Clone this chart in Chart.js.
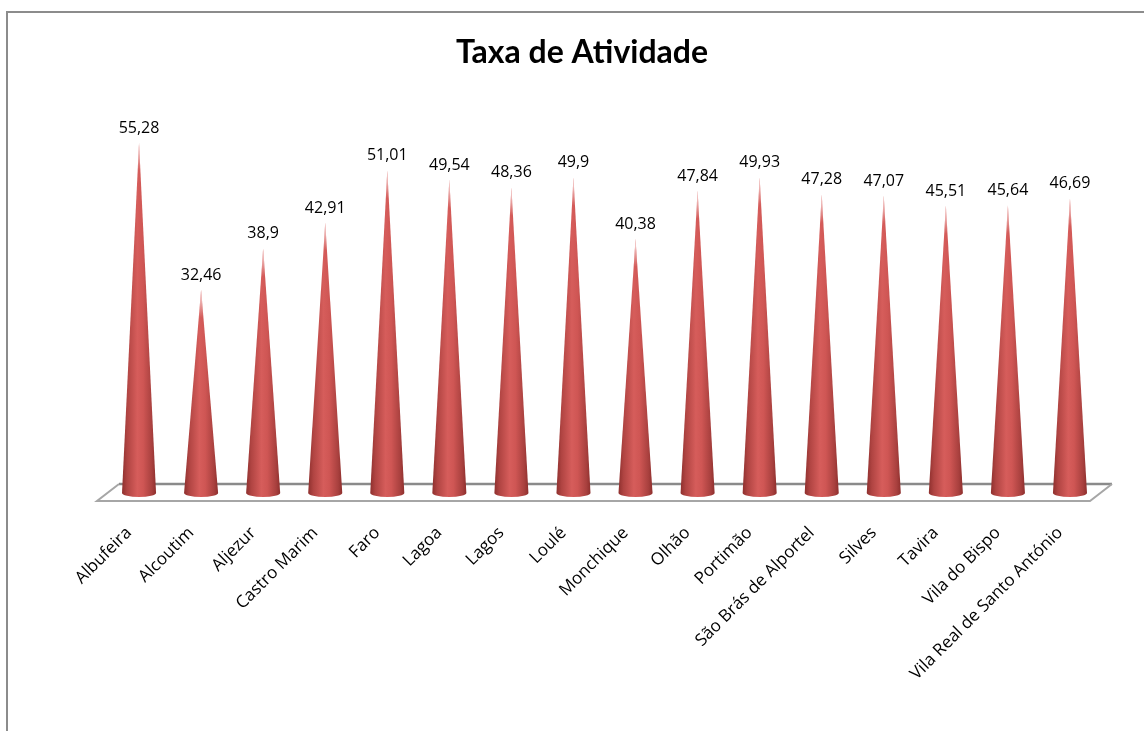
<!DOCTYPE html>
<html>
<head>
<meta charset="utf-8">
<title>Taxa de Atividade</title>
<script src="https://cdn.jsdelivr.net/npm/chart.js@4.4.1/dist/chart.umd.min.js"></script>
<style>
  html, body { margin: 0; padding: 0; background: #fff; overflow: hidden; }
  #wrap { width: 1164px; height: 731px; }
</style>
</head>
<body>
<div id="wrap"><canvas id="chart" width="1164" height="731"></canvas></div>
<script>
const municipios = [
  "Albufeira", "Alcoutim", "Aljezur", "Castro Marim", "Faro", "Lagoa", "Lagos", "Loulé",
  "Monchique", "Olhão", "Portimão", "São Brás de Alportel", "Silves", "Tavira",
  "Vila do Bispo", "Vila Real de Santo António"
];
const taxaAtividade = [
  55.28, 32.46, 38.9, 42.91, 51.01, 49.54, 48.36, 49.9,
  40.38, 47.84, 49.93, 47.28, 47.07, 45.51, 45.64, 46.69
];
const yMin = 0;
const yMax = 60;

const fmt = v => String(v).replace(".", ",");

// white page + grey frame (top and left edges visible)
const framePlugin = {
  id: "frame",
  beforeDraw(chart) {
    const ctx = chart.ctx;
    ctx.save();
    ctx.fillStyle = "#fff";
    ctx.fillRect(0, 0, chart.width, chart.height);
    ctx.strokeStyle = "#8c8c8c";
    ctx.lineWidth = 2;
    ctx.beginPath();
    ctx.moveTo(7, chart.height);
    ctx.lineTo(7, 12);
    ctx.lineTo(chart.width, 12);
    ctx.stroke();
    ctx.restore();
  }
};

// 3D floor under the cones
const floorPlugin = {
  id: "floor",
  beforeDatasetsDraw(chart) {
    const ctx = chart.ctx;
    const a = chart.chartArea;
    const zeroY = chart.scales.y.getPixelForValue(0);
    const d = 11;
    const backY = zeroY - 15, frontY = zeroY + 2;
    ctx.save();
    ctx.strokeStyle = "#8a8a8a";
    ctx.lineWidth = 2.5;
    ctx.beginPath();
    ctx.moveTo(a.left + d, backY);
    ctx.lineTo(a.right + d, backY);
    ctx.stroke();
    ctx.strokeStyle = "#a6a6a6";
    ctx.lineWidth = 2;
    ctx.beginPath();
    ctx.moveTo(a.left + d, backY);
    ctx.lineTo(a.left - d, frontY);
    ctx.lineTo(a.right - d, frontY);
    ctx.lineTo(a.right + d, backY);
    ctx.stroke();
    ctx.restore();
  }
};

function drawCone(ctx, x, tipY, baseY, half) {
  const grad = ctx.createLinearGradient(x - half, 0, x + half, 0);
  grad.addColorStop(0, "#8e302e");
  grad.addColorStop(0.15, "#b04442");
  grad.addColorStop(0.45, "#d65d5b");
  grad.addColorStop(0.62, "#cf5654");
  grad.addColorStop(0.88, "#a8403e");
  grad.addColorStop(1, "#8e2f2d");
  ctx.beginPath();
  ctx.moveTo(x, tipY);
  ctx.lineTo(x + half, baseY);
  ctx.ellipse(x, baseY, half, 4, 0, 0, Math.PI, false);
  ctx.closePath();
  ctx.fillStyle = grad;
  ctx.fill();
  // pale tip
  const tg = ctx.createLinearGradient(0, tipY, 0, tipY + 28);
  tg.addColorStop(0, "rgba(255,240,240,0.95)");
  tg.addColorStop(1, "rgba(255,240,240,0)");
  ctx.fillStyle = tg;
  ctx.fill();
}

// cones + value labels, placed from the bar elements
const conePlugin = {
  id: "cones",
  afterDatasetsDraw(chart) {
    const ctx = chart.ctx;
    const meta = chart.getDatasetMeta(0);
    ctx.save();
    meta.data.forEach(el => {
      const p = el.getProps(["x", "y", "base", "width"], true);
      drawCone(ctx, p.x, p.y, p.base - 6, p.width / 2);
    });
    ctx.fillStyle = "#000";
    ctx.font = '16px "Open Sans"';
    ctx.textAlign = "center";
    ctx.textBaseline = "alphabetic";
    meta.data.forEach((el, i) => {
      const p = el.getProps(["x", "y"], true);
      ctx.fillText(fmt(taxaAtividade[i]), p.x, p.y - 10);
    });
    ctx.restore();
  }
};

new Chart(document.getElementById("chart"), {
  type: "bar",
  data: {
    labels: municipios,
    datasets: [{
      label: "Taxa de Atividade",
      data: taxaAtividade,
      backgroundColor: "rgba(0,0,0,0)",
      barPercentage: 34 / 62,
      categoryPercentage: 1
    }]
  },
  options: {
    responsive: false,
    animation: false,
    layout: { padding: 0 },
    plugins: {
      legend: { display: false },
      tooltip: { enabled: false },
      title: {
        display: true,
        text: "Taxa de Atividade",
        color: "#000",
        font: { family: 'Lato, "Open Sans", sans-serif', size: 32, weight: "bold" },
        padding: { top: 33, bottom: 41 }
      }
    },
    scales: {
      x: {
        grid: { display: false },
        border: { display: false },
        ticks: {
          autoSkip: false,
          maxRotation: 45,
          minRotation: 45,
          labelOffset: -10,
          padding: 16,
          color: "#000",
          font: { family: '"Open Sans"', size: 17 }
        },
        afterFit(s) {
          // fixed plot area: left 108, right 1101, bottom 499
          s.paddingLeft = 108;
          s.paddingRight = 63;
          s.height = 232;
        }
      },
      y: {
        display: false,
        min: yMin,
        max: yMax
      }
    }
  },
  plugins: [framePlugin, floorPlugin, conePlugin]
});
</script>
</body>
</html>
